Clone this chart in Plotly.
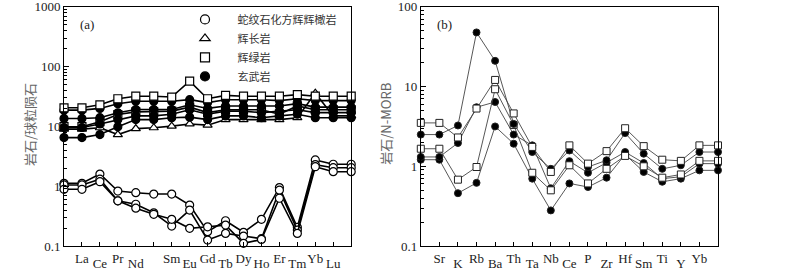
import plotly.graph_objects as go

# ---------------- Panel (a): chondrite-normalised REE ----------------
ree_x = list(range(17))
ree_up_pos = [1, 3, 6, 8, 10, 12, 14]
ree_up_lab = ["La", "Pr", "Sm", "Gd", "Dy", "Er", "Yb"]
ree_lo_pos = [2, 4, 5, 7, 9, 11, 13, 15]
ree_lo_lab = ["Ce", "Nd", "", "Eu", "Tb", "Ho", "Tm", "Lu"]

# serpentinized harzburgite (open circles)
serp_1 = [1.12, 1.12, 1.60, 0.83, 0.78, 0.74, 0.74, 0.485, 0.174, 0.265, 0.17, 0.28, 0.95, 0.206, 2.75, 2.33, 2.33]
serp_2 = [1.05, 1.05, 1.31, 0.57, 0.50, 0.36, 0.216, 0.40, 0.126, 0.163, 0.147, 0.133, 0.86, 0.185, 2.30, 2.04, 2.04]
serp_3 = [0.89, 0.89, 1.19, 0.57, 0.43, 0.34, 0.28, 0.198, 0.21, 0.224, 0.111, 0.129, 0.63, 0.163, 2.12, 1.75, 1.75]
# diabase (open squares)
diab_a1 = [20.5, 20.5, 23, 29, 32, 32, 31, 57, 29, 33, 32, 32, 32, 34, 32, 32, 32]
diab_a2 = [9.9, 9.9, 12, 15.8, 17.5, 17.5, 18, 21, 17, 19, 19, 19, 16, 22, 19, 19, 19]
# basalt (filled circles)
bas_a1 = [18.7, 18.7, 20, 24, 26.4, 26.4, 26.4, 28, 25, 28, 28, 28, 27, 29, 27, 27, 27]
bas_a2 = [13.6, 13.6, 14, 16.9, 19.2, 19.2, 19.2, 23, 20, 22, 22, 22, 22, 24, 21, 21, 21]
bas_a3 = [9.6, 9.6, 11, 13, 15, 15, 16, 19, 16, 18, 18, 17, 18, 19, 17, 17, 17]
bas_a4 = [6.5, 6.5, 7.3, 9.9, 13, 13, 14, 14.3, 13, 15, 15, 14, 15, 16, 14, 14, 14]
# gabbro (open triangles)
gab_a1 = [9.0, 9.0, 9.5, 7.3, 9.2, 9.5, 10.1, 11, 10.5, 13, 13, 13, 13, 14, 36, 15, 15]

# ---------------- Panel (b): N-MORB normalised spider ----------------
sp_x = list(range(17))
sp_up_pos = [1, 3, 5, 7, 9, 11, 13, 15]
sp_up_lab = ["Sr", "Rb", "Th", "Nb", "P", "Hf", "Ti", "Yb"]
sp_lo_pos = [2, 4, 6, 8, 10, 12, 14]
sp_lo_lab = ["K", "Ba", "Ta", "Ce", "Zr", "Sm", "Y"]

diab_b1 = [3.5, 3.5, 2.3, 5.3, 12.1, 4.6, 1.75, 0.85, 1.83, 1.08, 1.55, 3.0, 1.79, 1.21, 1.17, 1.83, 1.83]
diab_b2 = [1.66, 1.66, 0.68, 0.98, 9.25, 3.3, 0.83, 0.50, 1.03, 0.61, 0.93, 1.35, 1.0, 0.72, 0.79, 1.17, 1.17]
bas_b1 = [2.5, 2.5, 3.25, 47.7, 21, 3.4, 1.51, 0.93, 1.58, 0.98, 1.19, 2.61, 1.44, 0.93, 1.03, 1.51, 1.51]
bas_b2 = [1.31, 1.31, 1.96, 5.5, 6.4, 2.5, 1.83, 0.53, 1.16, 0.83, 1.11, 1.51, 1.10, 0.70, 0.74, 1.08, 1.08]
bas_b3 = [1.21, 1.21, 0.46, 0.62, 3.16, 1.92, 0.70, 0.28, 0.61, 0.55, 0.72, 1.41, 0.85, 0.64, 0.70, 0.89, 0.89]

legend_names = ["蛇纹石化方辉辉橄岩", "辉长岩", "辉绿岩", "玄武岩"]
title_a = "岩石/球粒陨石"
title_b = "岩石/N-MORB"

# axis tick values
ya_major = [0.1, 1, 10, 100, 1000]
yb_major = [0.1, 1, 10, 100]
minor_a = [m * 10.0 ** k for k in range(-1, 3) for m in range(2, 10)]
minor_b = [m * 10.0 ** k for k in range(-1, 2) for m in range(2, 10)]

fig = go.Figure()

def line_a(y, symbol, fill):
    fig.add_trace(go.Scatter(
        x=ree_x, y=y, mode="lines+markers", showlegend=False, cliponaxis=False,
        line=dict(color="black", width=1.6),
        marker=dict(symbol=symbol, size=8, color=fill, line=dict(color="black", width=1.2)),
        xaxis="x", yaxis="y"))

for s in (serp_1, serp_2, serp_3):
    line_a(s, "circle", "white")
line_a(gab_a1, "triangle-up", "white")
line_a(diab_a2, "square", "white")
line_a(bas_a4, "circle", "black")
line_a(bas_a3, "circle", "black")
line_a(bas_a2, "circle", "black")
line_a(bas_a1, "circle", "black")
line_a(diab_a1, "square", "white")

def line_b(y, symbol, fill):
    fig.add_trace(go.Scatter(
        x=sp_x, y=y, mode="lines+markers", showlegend=False, cliponaxis=False,
        line=dict(color="#444444", width=0.9),
        marker=dict(symbol=symbol, size=7, color=fill, line=dict(color="#222222", width=1)),
        xaxis="x2", yaxis="y2"))

line_b(bas_b3, "circle", "black")
line_b(bas_b2, "circle", "black")
line_b(diab_b2, "square", "white")
line_b(bas_b1, "circle", "black")
line_b(diab_b1, "square", "white")

# legend entries (marker only)
leg_sym = [("circle", "white"), ("triangle-up", "white"), ("square", "white"), ("circle", "black")]
pad = "\u00a0\u00a0\u00a0"
for name, (sym, col) in zip(legend_names, leg_sym):
    fig.add_trace(go.Scatter(
        x=[None], y=[None], mode="markers", name=pad + name, xaxis="x3", yaxis="y",
        marker=dict(symbol=sym, size=9, color=col, line=dict(color="black", width=1.2))))
# dummy for lower label axis of panel b
fig.add_trace(go.Scatter(x=[None], y=[None], mode="markers", showlegend=False, xaxis="x4", yaxis="y2"))

tickfont = dict(family="Liberation Serif", size=13, color="#222222")
ydom = [0.092, 0.975]
xa = dict(domain=[0.080, 0.439], range=[0, 16])
xb = dict(domain=[0.526, 0.8975], range=[0, 16])

common_x = dict(showgrid=False, zeroline=False, ticks="inside", ticklen=4, tickcolor="black",
                tickfont=tickfont, tickmode="array", automargin=False, ticklabeloverflow="allow")
common_y = dict(domain=ydom, type="log", tickmode="array",
                ticks="inside", ticklen=5, tickcolor="black", tickfont=tickfont,
                showgrid=False, zeroline=False, showline=True, linecolor="black", linewidth=1,
                mirror=True, automargin=False, ticklabeloverflow="allow")
title_font = dict(family="Noto Sans CJK SC", size=13, color="#666666")

fig.update_layout(
    width=800, height=271,
    margin=dict(l=0, r=0, t=0, b=0, pad=0),
    paper_bgcolor="white", plot_bgcolor="white",
    showlegend=True,
    legend=dict(x=0.225, y=0.982, xanchor="left", yanchor="top", bgcolor="rgba(0,0,0,0)",
                font=dict(family="Noto Sans CJK SC", size=11, color="#333333"),
                itemwidth=40, tracegroupgap=0),
    xaxis=dict(**xa, **common_x, tickvals=ree_up_pos, ticktext=ree_up_lab, ticklabelstandoff=0,
               showline=True, linecolor="black", linewidth=1, mirror=True, anchor="y"),
    xaxis3=dict(**xa, **common_x, tickvals=ree_lo_pos, ticktext=ree_lo_lab, ticklabelstandoff=8,
                showline=False, overlaying="x", anchor="y"),
    yaxis=dict(**common_y, range=[-1, 3], anchor="x",
               tickvals=ya_major, ticktext=[f"{v:g}" for v in ya_major],
               minor=dict(tickmode="array", tickvals=minor_a, ticks="inside", ticklen=3,
                          tickcolor="black", showgrid=False)),
    xaxis2=dict(**xb, **common_x, tickvals=sp_up_pos, ticktext=sp_up_lab, ticklabelstandoff=0,
                showline=True, linecolor="black", linewidth=1, mirror=True, anchor="y2"),
    xaxis4=dict(**xb, **common_x, tickvals=sp_lo_pos, ticktext=sp_lo_lab, ticklabelstandoff=8,
                showline=False, overlaying="x2", anchor="y2"),
    yaxis2=dict(**common_y, range=[-1, 2], anchor="x2",
                tickvals=yb_major, ticktext=[f"{v:g}" for v in yb_major],
                minor=dict(tickmode="array", tickvals=minor_b, ticks="inside", ticklen=3,
                           tickcolor="black", showgrid=False)),
    annotations=[
        dict(text="(a)", x=0.05, y=0.965, xref="x domain", yref="y domain", showarrow=False,
             xanchor="left", yanchor="top", font=dict(family="Liberation Serif", size=13, color="#222222")),
        dict(text="(b)", x=0.047, y=0.965, xref="x2 domain", yref="y2 domain", showarrow=False,
             xanchor="left", yanchor="top", font=dict(family="Liberation Serif", size=13, color="#222222")),
        dict(text=title_a, textangle=-90, x=0.03625, y=0.5424, xref="paper", yref="paper",
             showarrow=False, xanchor="center", yanchor="middle", font=title_font),
        dict(text=title_b, textangle=-90, x=0.481, y=0.5424, xref="paper", yref="paper",
             showarrow=False, xanchor="center", yanchor="middle", font=title_font),
    ],
)

fig.write_html("out.html", config={"displayModeBar": False},
               post_script="document.body.style.margin='0px';document.body.style.overflow='hidden';")
